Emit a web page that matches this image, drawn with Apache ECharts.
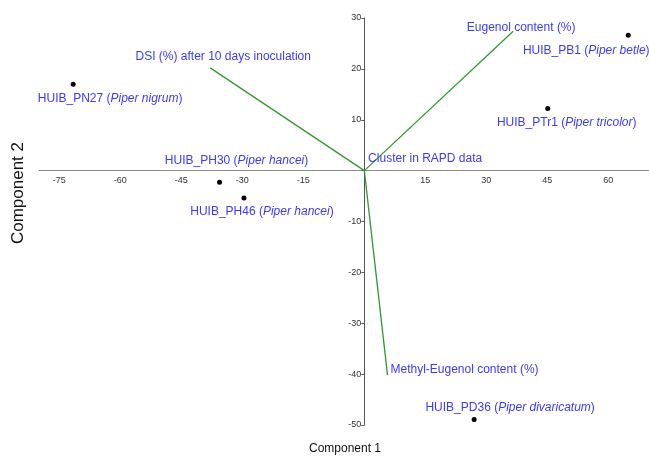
<!DOCTYPE html>
<html><head><meta charset="utf-8">
<script src="https://cdn.jsdelivr.net/npm/echarts@6/dist/echarts.min.js"></script>
<style>html,body{margin:0;padding:0;background:#fff}#c{width:649px;height:457px}</style>
</head><body><div id="c"></div>
<script>
// Sample scores
const sampleNames = ['HUIB_PN27','HUIB_PB1','HUIB_PTr1','HUIB_PH30','HUIB_PH46','HUIB_PD36'];
const sampleSpecies = ['Piper nigrum','Piper betle','Piper tricolor','Piper hancei','Piper hancei','Piper divaricatum'];
const sampleX = [-71.6, 64.9, 45.1, -35.6, -29.6, 27.0];
const sampleY = [17.0, 26.6, 12.2, -2.3, -5.4, -48.9];
// Variable loadings (vectors from origin)
const varNames = ['DSI (%) after 10 days inoculation','Eugenol content (%)','Methyl-Eugenol content (%)','Cluster in RAPD data'];
const varX = [-37.9, 36.6, 5.7, 0.2];
const varY = [20.2, 27.4, -40.2, 0.1];
// Tick labels
const xTicks = [-75,-60,-45,-30,-15,15,30,45,60];
const yTicks = [-50,-40,-30,-20,-10,10,20,30];

const blue = '#3a3aff';
const green = '#2f9a2f';
const font = 'Liberation Sans, Arial, sans-serif';
const sampleOffsets = [[37,15],[-42,15],[19,14],[17,-22],[18,14],[36,-12]];
const varOffsets = [[13,-11],[8,-4],[77,-5],[60,-11]];

// grid geometry
const G = {left:39, right:0, top:18, bottom:32, W:649, H:457};
const xMin=-80, xMax=70, yMin=-50, yMax=30;
const gw = G.W-G.left-G.right, gh = G.H-G.top-G.bottom;
const yAxisOffset = -(gw*(0-xMin)/(xMax-xMin));
const xAxisOffset = -(gh*(0-yMin)/(yMax-yMin));

const chart = echarts.init(document.getElementById('c'), null, {renderer:'canvas'});
const rich = {
  a:{color:blue,fontSize:12,fontFamily:font},
  b:{color:blue,fontSize:12,fontFamily:font,fontStyle:'italic'}
};
const series = [];
varNames.forEach((n,i)=>{
  series.push({
    type:'line', silent:true, symbol:'circle', symbolSize:1, showSymbol:true, animation:false,
    itemStyle:{color:'rgba(0,0,0,0)'},
    lineStyle:{color:green,width:1.3},
    data:[[0,0],{value:[varX[i],varY[i]], label:{show:true, position:'inside', offset:varOffsets[i], formatter:n, color:blue, fontSize:12, fontFamily:font}}],
    z:3
  });
});
series.push({
  type:'scatter', symbolSize:5, animation:false,
  itemStyle:{color:'#000',opacity:1},
  data: sampleNames.map((n,i)=>({
    value:[sampleX[i],sampleY[i]],
    label:{show:true, position:'inside', offset:sampleOffsets[i],
      formatter:'{a|'+n+' (}{b|'+sampleSpecies[i]+'}{a|)}', rich:rich}
  })),
  z:4
});
chart.setOption({
  animation:false,
  grid:{left:G.left,right:G.right,top:G.top,bottom:G.bottom,containLabel:false,outerBoundsMode:'none'},
  xAxis:{type:'value',min:xMin,max:xMax,position:'bottom',offset:xAxisOffset,
    axisLine:{onZero:false,lineStyle:{color:'#8a8a8a',width:1}},
    axisTick:{show:false},
    splitLine:{show:false},
    axisLabel:{customValues:xTicks,color:'#333',fontSize:9,fontFamily:font,margin:5}
  },
  yAxis:{type:'value',min:yMin,max:yMax,interval:10,position:'left',offset:yAxisOffset,
    axisLine:{onZero:false,lineStyle:{color:'#555',width:1}},
    axisTick:{show:true,length:3,lineStyle:{color:'#555'}},
    splitLine:{show:false},
    axisLabel:{customValues:yTicks,color:'#333',fontSize:9,fontFamily:font,margin:3}
  },
  graphic:[
    {type:'text',left:10,top:142,rotation:Math.PI/2,
      style:{text:'Component 2',fill:'#111',font:'17px '+font}},
    {type:'text',x:345,y:449,
      style:{text:'Component 1',fill:'#111',font:'12px '+font,align:'center',verticalAlign:'middle'}}
  ],
  series:series
});
</script></body></html>
